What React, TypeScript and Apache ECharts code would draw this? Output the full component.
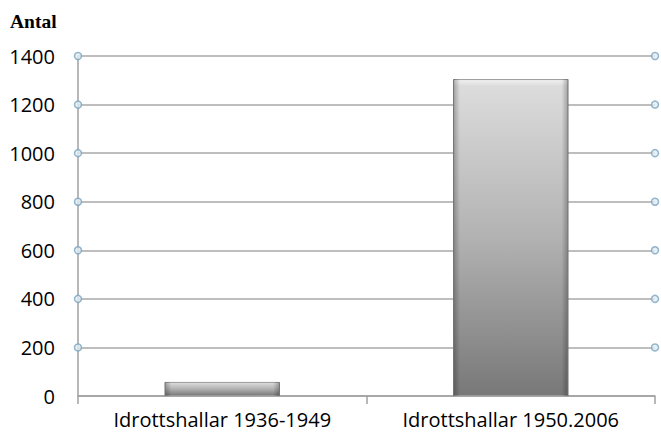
import React, { useEffect, useRef } from "react";
import * as echarts from "echarts";

const categories = ["Idrottshallar 1936-1949", "Idrottshallar 1950.2006"];
const values = [58, 1305];
const gridTicks = [200, 400, 600, 800, 1000, 1200, 1400];
const yAxisTitle = "Antal";

export default function App() {
  const ref = useRef<HTMLDivElement>(null);
  useEffect(() => {
    if (!ref.current) return;
    const chart = echarts.init(ref.current, null, { renderer: "svg" });
    const markerData: number[][] = [];
    gridTicks.forEach((t) => {
      markerData.push([0, t]);
      markerData.push([1, t]);
    });
    chart.setOption({
      animation: false,
      backgroundColor: "#ffffff",
      graphic: [
        {
          type: "text",
          x: 10,
          y: 21,
          style: {
            text: yAxisTitle,
            font: "bold 19.5px 'Liberation Serif', 'DejaVu Serif', serif",
            fill: "#000",
            verticalAlign: "middle",
          },
        },
      ],
      grid: { left: 78, right: 6, top: 56, bottom: 43 },
      xAxis: [
        {
          type: "category",
          data: categories,
          axisLine: { show: true, lineStyle: { color: "#a0a0a0", width: 1.5 } },
          axisTick: { show: true, length: 8, lineStyle: { color: "#a0a0a0", width: 1.5 } },
          axisLabel: {
            color: "#000",
            fontFamily: "'Open Sans', sans-serif",
            fontWeight: 500,
            fontSize: 20,
            margin: 13,
          },
        },
        {
          type: "value",
          min: 0,
          max: 1,
          show: false,
        },
      ],
      yAxis: {
        type: "value",
        min: 0,
        max: 1400,
        interval: 200,
        axisLine: { show: true, lineStyle: { color: "#a0a0a0", width: 1.5 } },
        axisTick: { show: false },
        splitLine: { show: true, lineStyle: { color: "#a8a8a8", width: 1.5 } },
        axisLabel: {
          color: "#000",
          fontFamily: "'Open Sans', sans-serif",
          fontWeight: 500,
          fontSize: 20,
          margin: 23,
          formatter: (v: number) => String(v),
        },
      },
      series: [
        {
          type: "bar",
          xAxisIndex: 0,
          data: values,
          barWidth: "40%",
          itemStyle: {
            color: new echarts.graphic.LinearGradient(0, 0, 0, 1, [
              { offset: 0, color: "#f2f2f2" },
              { offset: 0.02, color: "#dcdcdc" },
              { offset: 0.5, color: "#b2b2b2" },
              { offset: 1, color: "#787878" },
            ]),
            borderColor: "#9a9a9a",
            borderWidth: 1,
          },
        },
        {
          type: "bar",
          xAxisIndex: 0,
          data: values,
          barWidth: "40%",
          barGap: "-100%",
          silent: true,
          itemStyle: {
            color: new echarts.graphic.LinearGradient(0, 0, 1, 0, [
              { offset: 0, color: "rgba(0,0,0,0.28)" },
              { offset: 0.06, color: "rgba(0,0,0,0)" },
              { offset: 0.94, color: "rgba(0,0,0,0)" },
              { offset: 1, color: "rgba(0,0,0,0.28)" },
            ]),
          },
        },
        {
          type: "scatter",
          xAxisIndex: 1,
          data: markerData,
          symbol: "circle",
          symbolSize: 7,
          itemStyle: { color: "#e2edf4", borderColor: "#78a4c0", borderWidth: 1.5 },
          z: 5,
        },
      ],
    });
    return () => chart.dispose();
  }, []);
  return <div ref={ref} style={{ width: 661, height: 439, position: "absolute", left: 0, top: 0 }} />;
}
